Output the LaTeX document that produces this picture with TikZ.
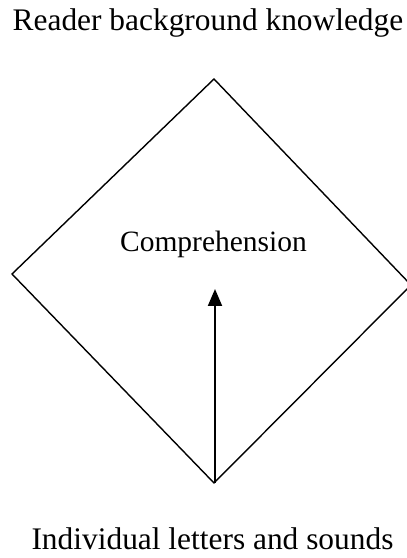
\documentclass[tikz,border=0pt]{standalone}
\usepackage{fontspec}
\setmainfont{Liberation Serif}
\usetikzlibrary{arrows.meta}
\begin{document}
\begin{tikzpicture}[x=1pt,y=1pt,
  lbl/.style={anchor=base,inner sep=0pt,font=\fontsize{31.4}{36}\selectfont},
  midlbl/.style={anchor=base,inner sep=0pt,font=\fontsize{29.5}{34}\selectfont},
  edge/.style={line width=1.4pt,line join=miter},
  arr/.style={line width=2pt,-{Triangle[width=14pt,length=17pt]}}]
\useasboundingbox (0,0) rectangle (407,558);
\clip (0,0) rectangle (407,558);
\coordinate (T) at (214,479);
\coordinate (L) at (12,284);
\coordinate (B) at (214,75);
\coordinate (R) at (411,273);
\coordinate (tip) at (215,269);
\coordinate (base) at (215,75);
\draw[edge] (T) -- (L) -- (B) -- (R) -- cycle;
\node[lbl] (top) at (208,527) {Reader background knowledge};
\node[midlbl] (comp) at (213.5,306) {Comprehension};
\node[lbl] (bot) at (212.5,9) {Individual letters and sounds};
\draw[arr] (base) -- (tip);
\end{tikzpicture}
\end{document}
